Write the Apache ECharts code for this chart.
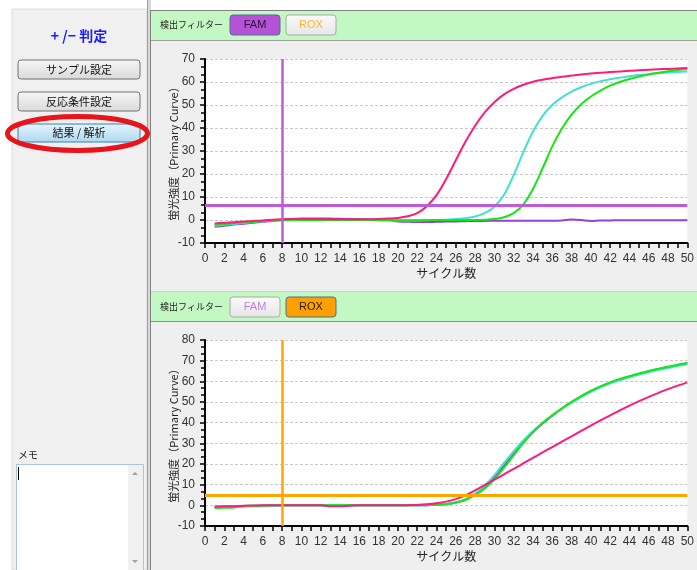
<!DOCTYPE html>
<html><head><meta charset="utf-8">
<script src="https://cdn.jsdelivr.net/npm/echarts@6/dist/echarts.min.js"></script>
<style>html,body{margin:0;padding:0;background:#fff;}#c{width:697px;height:570px;}</style>
</head><body><div id="c"></div>
<script>
// ---- data ----
const cycles = [1,2,3,4,5,6,7,8,9,10,11,12,13,14,15,16,17,18,19,20,21,22,23,24,25,26,27,28,29,30,31,32,33,34,35,36,37,38,39,40,41,42,43,44,45,46,47,48,49,50];

// FAM channel (top chart)
const famPink   = [-1.5,-1.2,-1.0,-0.7,-0.4,-0.2,0.1,0.3,0.4,0.4,0.4,0.4,0.3,0.3,0.3,0.3,0.3,0.4,0.6,0.9,1.6,3.0,6.0,10.8,17.8,26.0,34.0,41.0,46.8,51.2,54.6,57.0,58.8,60.1,61.0,61.7,62.3,62.8,63.3,63.7,64.0,64.3,64.6,64.9,65.1,65.3,65.5,65.7,65.9,66.1];
const famCyan   = [-2.5,-2.1,-1.7,-1.3,-0.9,-0.6,-0.3,0.0,0.1,0.1,0.1,0.0,0.0,0.0,0.0,0.0,0.0,0.0,-0.1,-0.2,-0.2,-0.2,-0.1,0.0,0.1,0.4,0.8,1.5,3.0,5.8,11.0,19.5,29.5,38.5,45.3,50.0,53.3,55.8,57.7,59.2,60.3,61.2,61.9,62.5,63.0,63.4,63.8,64.1,64.4,64.6];
const famGreen  = [-2.0,-1.7,-1.4,-1.1,-0.8,-0.5,-0.3,-0.1,0.0,0.0,0.0,0.0,0.0,0.0,0.0,0.0,0.0,-0.1,-0.1,-0.1,-0.1,-0.1,-0.1,0.0,0.0,0.0,0.0,0.0,0.1,0.4,1.2,3.0,6.8,13.5,22.5,32.0,39.8,45.8,50.3,53.7,56.3,58.4,60.0,61.3,62.4,63.3,64.0,64.7,65.2,65.7];
const famPurple = [-2.9,-2.5,-2.0,-1.6,-1.2,-0.8,-0.4,0.1,0.4,0.6,0.7,0.7,0.6,0.5,0.4,0.3,0.2,0.1,0.0,-0.6,-0.8,-0.9,-0.9,-0.8,-0.7,-0.6,-0.5,-0.4,-0.4,-0.3,-0.3,-0.3,-0.3,-0.3,-0.3,-0.3,-0.2,0.2,0.0,-0.4,-0.2,-0.2,-0.1,-0.1,-0.1,-0.1,-0.1,-0.1,-0.1,-0.1];

// ROX channel (bottom chart)
const roxPurple = [-0.8,-0.7,-0.6,-0.4,-0.3,-0.2,-0.1,0.0,0.0,0.0,0.0,0.0,0.0,0.0,0.0,0.0,0.0,0.0,0.0,0.0,0.0,0.0,0.1,0.2,0.6,1.4,2.8,5.2,8.8,13.6,19.2,24.9,30.5,35.4,39.6,43.4,46.8,49.9,52.7,55.2,57.4,59.3,60.9,62.3,63.6,64.8,65.9,66.9,67.8,68.7];
const roxCyan   = [-0.8,-0.7,-0.6,-0.6,-0.6,-0.5,-0.2,0.0,0.0,0.0,0.0,0.0,0.3,0.3,0.1,0.0,0.0,0.0,0.0,0.0,0.0,0.0,0.1,0.2,0.6,1.4,3.0,5.6,9.6,14.6,20.5,26.2,31.4,36.0,40.0,43.6,46.8,49.7,52.4,54.9,57.1,59.0,60.6,62.0,63.2,64.4,65.5,66.5,67.4,68.2];
const roxGreen  = [-1.3,-1.2,-1.0,-0.3,-0.2,-0.1,0.0,0.0,0.0,0.0,0.0,0.0,0.0,0.0,0.0,0.0,0.0,0.0,0.0,0.0,0.0,0.0,0.1,0.2,0.5,1.3,2.6,5.0,8.2,12.6,18.2,24.2,30.2,35.4,39.8,43.6,47.0,50.1,52.9,55.4,57.6,59.5,61.1,62.5,63.8,65.0,66.1,67.1,68.0,68.9];
const roxPink   = [-0.6,-0.5,-0.4,-0.2,-0.1,0.0,0.0,0.0,0.0,0.0,0.0,0.0,-0.5,-0.5,-0.2,0.0,0.0,0.0,0.0,0.0,0.1,0.2,0.5,1.0,1.8,3.0,4.8,7.2,9.8,12.4,15.0,17.6,20.3,23.0,25.6,28.2,30.8,33.4,36.0,38.6,41.1,43.5,45.9,48.2,50.4,52.5,54.4,56.2,57.9,59.5];

const famThreshold = 6.5;
const roxThreshold = 4.8;
const baselineCycle = 8;

const xTicks = {min: 0, max: 50, interval: 2};
const famYTicks = {min: -10, max: 70, interval: 10};
const roxYTicks = {min: -10, max: 80, interval: 10};

const yAxisTitle = '蛍光強度（Primary Curve）';
const xAxisTitle = 'サイクル数';

// ---- styles ----
const C_PINK = '#ff1a7c', C_CYAN = '#44e0d4', C_GREEN = '#16e616', C_PURPLE = '#9a3fd0';
const C_FAMLINE = '#c25ad8', C_ROXLINE = '#ffa500';
const GREEN_BG = '#c3f8c3', PANE_BG = '#efefef';
const JP = '"Noto Sans CJK JP", sans-serif';
const NUM = '"Liberation Sans", Arial, sans-serif';

function pairs(v){ return cycles.map((c,i)=>[c, v[i]]); }

function xAxisCfg(gi){
  return {
    type:'value', gridIndex: gi, min:xTicks.min, max:xTicks.max, interval:xTicks.interval,
    name: xAxisTitle, nameLocation:'middle', nameGap: 24,
    nameTextStyle:{fontFamily:JP, fontSize:12, color:'#222'},
    axisLine:{onZero:false, lineStyle:{color:'#000', width:2}},
    axisTick:{show:true, inside:false, length:5, lineStyle:{color:'#000', width:1.5}},
    minorTick:{show:true, splitNumber:2, length:5, lineStyle:{color:'#000', width:1.5}},
    axisLabel:{fontFamily:NUM, fontSize:12, color:'#333', margin:10},
    splitLine:{show:false}
  };
}
function yAxisCfg(gi, t){
  return {
    type:'value', gridIndex: gi, min:t.min, max:t.max, interval:t.interval,
    name: yAxisTitle, nameLocation:'middle', nameGap: 26, nameRotate: 90, nameMoveOverlap: false,
    nameTextStyle:{fontFamily:JP, fontSize:11, color:'#222'},
    axisLine:{show:true, onZero:false, lineStyle:{color:'#000', width:2}},
    axisTick:{show:true, inside:false, length:5, lineStyle:{color:'#000', width:1.5}},
    minorTick:{show:true, splitNumber:3, length:4, lineStyle:{color:'#000', width:1.5}},
    axisLabel:{fontFamily:NUM, fontSize:12, color:'#333', margin:10},
    splitLine:{show:true, lineStyle:{color:'#c8c8c8', type:[3,2], width:1}}
  };
}
function lineSeries(gi, vals, color, z){
  return {type:'line', xAxisIndex:gi, yAxisIndex:gi, data:pairs(vals), showSymbol:false, symbol:'none',
    smooth:0.35, z:z, lineStyle:{color:color, width:2}, silent:true};
}
function guideSeries(gi, color, thr){
  return {type:'line', xAxisIndex:gi, yAxisIndex:gi, data:[], z:5, silent:true,
    markLine:{silent:true, symbol:['none','none'], label:{show:false}, animation:false,
      data:[
        {yAxis: thr, lineStyle:{color:color, width:3, type:'solid'}},
        {xAxis: baselineCycle, lineStyle:{color:color, width:2.5, type:'solid'}}
      ]}};
}

// ---- UI graphics ----
function btn(x,y,w,h,label,fill,stroke,textColor,font){
  return {type:'group', children:[
    {type:'rect', shape:{x:x,y:y,width:w,height:h,r:3}, style:{fill:fill, stroke:stroke, lineWidth:1}},
    {type:'text', style:{x:x+w/2, y:y+h/2, text:label, fill:textColor, font:font||('11px '+JP), align:'center', verticalAlign:'middle'}}
  ]};
}
function grad(a,b){ return new echarts.graphic.LinearGradient(0,0,0,1,[{offset:0,color:a},{offset:1,color:b}]); }

const graphics = [
  // backgrounds
  {type:'rect', z:-20, shape:{x:0,y:0,width:697,height:570}, style:{fill:'#ffffff'}},
  {type:'rect', z:-19, shape:{x:12,y:9,width:135,height:561}, style:{fill:'#f0f0f0', stroke:'#dcdcdc', lineWidth:1}},
  {type:'rect', z:-19, shape:{x:147,y:0,width:4,height:570}, style:{fill:'#d8d8d8'}},
  {type:'line', z:-18, shape:{x1:147.5,y1:0,x2:147.5,y2:570}, style:{stroke:'#a0a0a0', lineWidth:1}},
  {type:'line', z:-18, shape:{x1:150.5,y1:10,x2:150.5,y2:570}, style:{stroke:'#808080', lineWidth:1}},
  // top header
  {type:'rect', z:-19, shape:{x:151,y:10,width:546,height:30}, style:{fill:GREEN_BG}},
  {type:'line', z:-18, shape:{x1:151,y1:10.5,x2:697,y2:10.5}, style:{stroke:'#808080', lineWidth:1}},
  {type:'line', z:-18, shape:{x1:151,y1:40.5,x2:697,y2:40.5}, style:{stroke:'#a0a0a0', lineWidth:1}},
  {type:'rect', z:-19, shape:{x:151,y:41,width:546,height:251}, style:{fill:PANE_BG}},
  // bottom header
  {type:'rect', z:-19, shape:{x:151,y:292,width:546,height:29}, style:{fill:GREEN_BG}},
  {type:'line', z:-18, shape:{x1:151,y1:291.5,x2:697,y2:291.5}, style:{stroke:'#d0d0d0', lineWidth:1}},
  {type:'line', z:-18, shape:{x1:151,y1:321.5,x2:697,y2:321.5}, style:{stroke:'#909090', lineWidth:1}},
  {type:'rect', z:-19, shape:{x:151,y:322,width:546,height:248}, style:{fill:PANE_BG}},
  // header texts & buttons
  {type:'text', style:{x:160, y:25, text:'検出フィルター', fill:'#222', font:'9px '+JP, verticalAlign:'middle'}},
  btn(230,15,50,20,'FAM','#b652d6','#46709c','#2e1036','11px '+NUM),
  btn(286,15,50,20,'ROX',grad('#fafafa','#e6e6e6'),'#a8a8a8','#ffb23a','11px '+NUM),
  {type:'text', style:{x:160, y:307, text:'検出フィルター', fill:'#222', font:'9px '+JP, verticalAlign:'middle'}},
  btn(230,297,50,20,'FAM',grad('#fafafa','#e6e6e6'),'#a8a8a8','#c77ae0','11px '+NUM),
  btn(286,297,50,20,'ROX','#ffa000','#46709c','#2a1a00','11px '+NUM),
  // left panel
  {type:'text', style:{x:79, y:36, text:'+ /− 判定', fill:'#1a1aff', font:'bold 14px '+JP, align:'center', verticalAlign:'middle'}},
  btn(18,60,122,19,'サンプル設定',grad('#f6f6f6','#dadada'),'#707070','#111'),
  btn(18,92,122,19,'反応条件設定',grad('#f6f6f6','#dadada'),'#707070','#111'),
  btn(18,124,122,18,'結果 / 解析',grad('#e6f5fd','#acd8f0'),'#3c7fb1','#111'),
  {type:'ellipse', z:10, shape:{cx:77.5, cy:133.5, rx:70, ry:17}, style:{fill:'none', stroke:'#e8141c', lineWidth:5}},
  {type:'text', style:{x:18, y:455, text:'メモ', fill:'#222', font:'10px '+JP, verticalAlign:'middle'}},
  {type:'rect', shape:{x:16.5,y:464.5,width:127,height:110}, style:{fill:'#fff', stroke:'#a9c6de', lineWidth:1}},
  {type:'rect', shape:{x:128,y:465,width:15,height:105}, style:{fill:'#f0f0f0'}},
  {type:'polygon', shape:{points:[[132,475],[138,475],[135,472]]}, style:{fill:'#a0a0a0'}},
  {type:'polygon', shape:{points:[[132,560],[138,560],[135,563]]}, style:{fill:'#a0a0a0'}},
  {type:'line', shape:{x1:18.5,y1:467,x2:18.5,y2:480}, style:{stroke:'#000', lineWidth:1}}
];

const chart = echarts.init(document.getElementById('c'), null, {renderer:'canvas'});
chart.setOption({
  animation:false,
  backgroundColor:'transparent',
  graphic: graphics,
  grid:[
    {left:205, top:59, width:489, height:184, show:true, backgroundColor:'#ffffff', borderWidth:0, containLabel:false},
    {left:205, top:340, width:489, height:186, show:true, backgroundColor:'#ffffff', borderWidth:0, containLabel:false}
  ],
  xAxis:[xAxisCfg(0), xAxisCfg(1)],
  yAxis:[yAxisCfg(0, famYTicks), yAxisCfg(1, roxYTicks)],
  series:[
    guideSeries(0, C_FAMLINE, famThreshold),
    lineSeries(0, famPurple, C_PURPLE, 2),
    lineSeries(0, famCyan, C_CYAN, 3),
    lineSeries(0, famGreen, C_GREEN, 3),
    lineSeries(0, famPink, C_PINK, 4),
    guideSeries(1, C_ROXLINE, roxThreshold),
    lineSeries(1, roxPurple, C_PURPLE, 2),
    lineSeries(1, roxCyan, C_CYAN, 3),
    lineSeries(1, roxGreen, C_GREEN, 3),
    lineSeries(1, roxPink, C_PINK, 4)
  ]
});
</script></body></html>
